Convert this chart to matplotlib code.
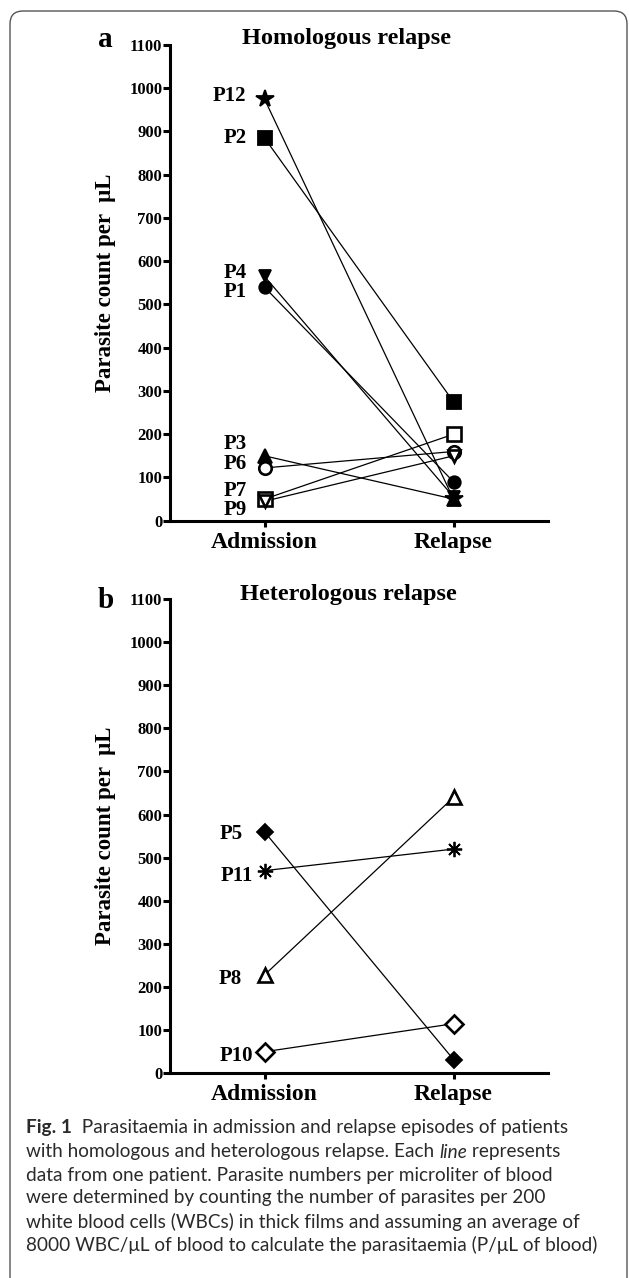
import matplotlib.pyplot as plt
from matplotlib.patches import FancyBboxPatch

# panel a: homologous relapse
hom_names = ["P1", "P2", "P3", "P4", "P6", "P7", "P9", "P12"]
hom_admission = [540, 885, 150, 565, 122, 50, 45, 975]
hom_relapse = [90, 275, 50, 55, 160, 200, 150, 50]
hom_markers = ["o", "s", "^", "v", "o", "s", "v", "*"]
hom_filled = [True, True, True, True, False, False, False, True]
hom_label_y = [529, 886, 177, 573, 131, 68, 24, 981]

# panel b: heterologous relapse
het_names = ["P5", "P8", "P10", "P11"]
het_admission = [560, 228, 50, 470]
het_relapse = [32, 640, 115, 520]
het_markers = ["D", "^", "D", (8, 2, 0)]
het_filled = [True, False, False, True]
het_label_y = [555, 219, 40, 458]

episodes = ["Admission", "Relapse"]
yticks = list(range(0, 1101, 100))

SERIF = "Liberation Serif"
SANS = "Lato"

marker_size = {"o": 9, "s": 10, "^": 10, "v": 9, "*": 13, "D": 8.5}


def draw_panel(ax, names, adm, rel, markers, filled, label_y, label_dx):
    for a, r in zip(adm, rel):
        ax.plot([0, 1], [a, r], color="black", lw=0.9, zorder=2)
    for i, name in enumerate(names):
        m = markers[i]
        ms = marker_size.get(m, 11) if isinstance(m, str) else 11
        if not filled[i] and m == "D":
            ms = 9.5
        ax.plot([0, 1], [adm[i], rel[i]], ls="none", marker=m, ms=ms,
                mfc="black" if filled[i] else "white", mec="black",
                mew=1.3 if filled[i] else 1.9, zorder=3, clip_on=False)
        ax.annotate(name, xy=(0, label_y[i]), xytext=(label_dx[i], 0),
                    textcoords="offset points", ha="right", va="center",
                    fontfamily=SERIF, fontweight="bold", fontsize=15)
    ax.set_xlim(-0.5, 1.5)
    ax.set_ylim(0, 1100)
    ax.set_xticks([0, 1])
    ax.set_xticklabels(episodes, fontfamily=SERIF, fontweight="bold",
                       fontsize=17)
    ax.set_yticks(yticks)
    ax.set_yticklabels([str(v) for v in yticks], fontfamily=SERIF,
                       fontweight="bold", fontsize=12)
    for side in ["top", "right"]:
        ax.spines[side].set_visible(False)
    for side in ["left", "bottom"]:
        ax.spines[side].set_linewidth(2.2)
    ax.tick_params(axis="y", direction="out", length=5, width=2.2, pad=0.5)
    ax.tick_params(axis="x", direction="out", length=4, width=2.2, pad=4)


W, H = 629, 1278
fig = plt.figure(figsize=(W / 100, H / 100), dpi=100)

# rounded frame around the figure
frame = FancyBboxPatch((0.10, -0.3), 6.17, 12.67 + 0.3,
                       boxstyle="round,pad=0,rounding_size=0.13",
                       transform=fig.dpi_scale_trans, fill=False,
                       ec="#555555", lw=1.0)
fig.patches.append(frame)

ax_a = fig.add_axes([170 / W, 1 - 520.7 / H, 378 / W, 475.7 / H])
ax_b = fig.add_axes([170 / W, 1 - 1073.3 / H, 378 / W, 474.3 / H])

draw_panel(ax_a, hom_names, hom_admission, hom_relapse, hom_markers,
           hom_filled, hom_label_y, [-13] * len(hom_names))
draw_panel(ax_b, het_names, het_admission, het_relapse, het_markers,
           het_filled, het_label_y, [-16, -16, -8, -8])

# titles, panel letters, y labels
fig.text(346 / W, 1 - 44 / H, "Homologous relapse", ha="center",
         va="baseline", fontfamily=SERIF, fontweight="bold", fontsize=17.5)
fig.text(348 / W, 1 - 600 / H, "Heterologous relapse", ha="center",
         va="baseline", fontfamily=SERIF, fontweight="bold", fontsize=17.5)
fig.text(98 / W, 1 - 47 / H, "a", ha="left", va="baseline",
         fontfamily=SERIF, fontweight="bold", fontsize=21)
fig.text(98 / W, 1 - 608 / H, "b", ha="left", va="baseline",
         fontfamily=SERIF, fontweight="bold", fontsize=21)
for yc in [283, 836]:
    fig.text(105 / W, 1 - yc / H, "Parasite count per  \u03bcL", rotation=90,
             ha="center", va="center", fontfamily=SERIF, fontweight="bold",
             fontsize=16.5)

# caption
caption = [
    [("Fig. 1", "bold", "normal"),
     ("  Parasitaemia in admission and relapse episodes of patients",
      "normal", "normal")],
    [("with homologous and heterologous relapse. Each ", "normal", "normal"),
     ("line", "normal", "italic"), (" represents", "normal", "normal")],
    [("data from one patient. Parasite numbers per microliter of blood",
      "normal", "normal")],
    [("were determined by counting the number of parasites per 200",
      "normal", "normal")],
    [("white blood cells (WBCs) in thick films and assuming an average of",
      "normal", "normal")],
    [("8000 WBC/\u03bcL of blood to calculate the parasitaemia (P/\u03bcL of blood)",
      "normal", "normal")],
]
caption_y = [1128, 1152, 1175, 1198, 1222, 1245]

renderer = fig.canvas.get_renderer()
probe = fig.text(0, 0, caption[-1][0][0], fontfamily=SANS, fontsize=10)
probe_w = probe.get_window_extent(renderer).width
probe.remove()
cap_size = 10 * 572 / probe_w

for line, yc in zip(caption, caption_y):
    x = 26
    for txt, weight, style in line:
        t = fig.text(x / W, 1 - yc / H, txt, ha="left", va="center",
                     fontfamily=SANS, fontweight=weight, fontstyle=style,
                     fontsize=cap_size, color="#2a2a2a")
        x += t.get_window_extent(renderer).width

fig.savefig("out.png", dpi=100)
